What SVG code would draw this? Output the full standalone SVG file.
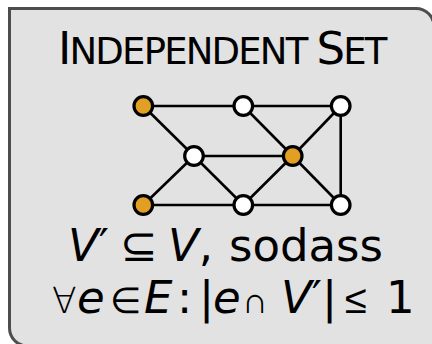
<svg xmlns="http://www.w3.org/2000/svg" width="432" height="344" viewBox="0 0 432 344">
<style>
.box{fill:#e2e2e2;stroke:#4d4d4d;stroke-width:3}
.e{stroke:#000;stroke-width:2.6;fill:none}
.n{stroke:#000;stroke-width:3.2}
.w{fill:#fff}
.o{fill:#e1a023}
text{font-family:"DejaVu Sans",sans-serif;fill:#000;font-size:45px}
.i{font-style:italic}
.m{font-weight:200}
.s{font-weight:200;font-size:36px}
</style>
<g id="frame"><path class="box" d="M9.5,8.5 H416 A18,18 0 0 1 434,26.5 V346 H27.5 A18,18 0 0 1 9.5,328 Z"/></g>
<g id="connectors">
<line class="e" x1="143.3" y1="106" x2="243.3" y2="106"/>
<line class="e" x1="243.3" y1="106" x2="340.7" y2="106"/>
<line class="e" x1="143.3" y1="106" x2="194" y2="156"/>
<line class="e" x1="243.3" y1="106" x2="292.7" y2="156"/>
<line class="e" x1="340.7" y1="106" x2="292.7" y2="156"/>
<line class="e" x1="340.7" y1="106" x2="340.7" y2="205"/>
<line class="e" x1="194" y1="156" x2="292.7" y2="156"/>
<line class="e" x1="194" y1="156" x2="143.3" y2="205"/>
<line class="e" x1="194" y1="156" x2="243.3" y2="205"/>
<line class="e" x1="292.7" y1="156" x2="243.3" y2="205"/>
<line class="e" x1="292.7" y1="156" x2="340.7" y2="205"/>
<line class="e" x1="143.3" y1="205" x2="243.3" y2="205"/>
<line class="e" x1="243.3" y1="205" x2="340.7" y2="205"/>
</g>
<g id="n1"><circle class="n o" cx="143.3" cy="106" r="9.3"/></g>
<g id="n2"><circle class="n w" cx="243.3" cy="106" r="9.3"/></g>
<g id="n3"><circle class="n w" cx="340.7" cy="106" r="9.3"/></g>
<g id="n4"><circle class="n w" cx="194" cy="156" r="9.3"/></g>
<g id="n5"><circle class="n o" cx="292.7" cy="156" r="9.3"/></g>
<g id="n6"><circle class="n o" cx="143.3" cy="205" r="9.3"/></g>
<g id="n7"><circle class="n w" cx="243.3" cy="205" r="9.3"/></g>
<g id="n8"><circle class="n w" cx="340.7" cy="205" r="9.3"/></g>
<g id="labels">
<text x="58" y="64" letter-spacing="-1.8">I<tspan font-size="37">NDEPENDENT </tspan>S<tspan font-size="37">ET</tspan></text>
<text y="261"><tspan x="68" class="i">V</tspan>′<tspan x="120" class="m">⊆</tspan><tspan x="168" class="i">V</tspan>,<tspan x="229">sodass</tspan></text>
<text y="313"><tspan x="52" class="s">∀</tspan><tspan x="77" class="i">e</tspan><tspan x="110" class="s">∈</tspan><tspan x="144" class="i">E</tspan><tspan x="177">:</tspan><tspan x="199">|</tspan><tspan x="213" class="i">e</tspan><tspan x="242" class="s">∩</tspan><tspan x="281" class="i">V</tspan>′|<tspan x="345" class="m" font-size="40">≤</tspan><tspan x="386">1</tspan></text>
</g>
</svg>
